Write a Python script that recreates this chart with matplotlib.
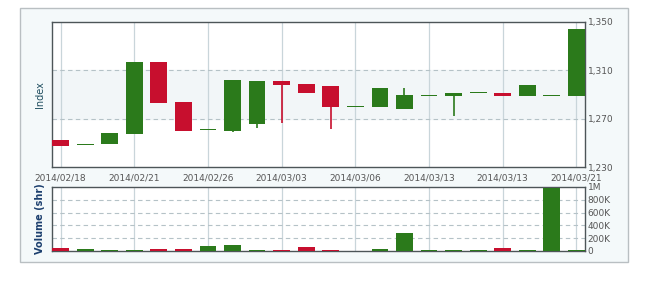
import matplotlib.pyplot as plt
import numpy as np
from matplotlib.patches import Rectangle

# daily OHLC + volume
dates = ["2014/02/18", "2014/02/19", "2014/02/20", "2014/02/21", "2014/02/24",
         "2014/02/25", "2014/02/26", "2014/02/27", "2014/02/28", "2014/03/03",
         "2014/03/04", "2014/03/05", "2014/03/06", "2014/03/07", "2014/03/10",
         "2014/03/13", "2014/03/14", "2014/03/17", "2014/03/13", "2014/03/19",
         "2014/03/20", "2014/03/21"]
opens = [1252.3, 1248.5, 1249.0, 1257.6, 1316.9, 1284.0, 1260.6, 1259.8, 1265.6, 1301.4,
         1298.7, 1297.0, 1279.9, 1279.9, 1277.7, 1289.0, 1289.0, 1291.0, 1291.0, 1288.8,
         1289.0, 1288.8]
closes = [1247.4, 1249.0, 1258.1, 1316.9, 1283.2, 1259.8, 1260.6, 1302.0, 1301.2, 1297.9,
          1291.5, 1279.9, 1279.9, 1295.1, 1289.6, 1289.0, 1291.0, 1291.0, 1289.0, 1297.9,
          1289.0, 1344.0]
highs = [1252.3, 1249.0, 1258.1, 1316.9, 1316.9, 1284.0, 1260.6, 1302.0, 1301.2, 1301.4,
         1298.7, 1297.0, 1279.9, 1295.1, 1295.1, 1289.0, 1291.0, 1291.0, 1291.0, 1297.9,
         1289.0, 1344.0]
lows = [1247.4, 1248.5, 1249.0, 1257.6, 1283.2, 1259.8, 1260.6, 1259.0, 1262.0, 1266.2,
        1291.5, 1261.2, 1279.9, 1279.9, 1277.7, 1289.0, 1272.2, 1291.0, 1289.0, 1288.8,
        1289.0, 1288.8]
volumes = [40e3, 35e3, 20e3, 20e3, 35e3, 35e3, 75e3, 90e3, 20e3, 20e3,
           60e3, 8e3, 5e3, 38e3, 280e3, 20e3, 20e3, 20e3, 40e3, 20e3,
           990e3, 20e3]
tick_idx = [0, 3, 6, 9, 12, 15, 18, 21]
tick_labels = ["2014/02/18", "2014/02/21", "2014/02/26", "2014/03/03",
               "2014/03/06", "2014/03/13", "2014/03/13", "2014/03/21"]

GREEN = "#2b7a1b"
RED = "#c70f2e"
GRID = "#c9d5da"
TXT = "#555555"

fig = plt.figure(figsize=(6.5, 2.82), dpi=100)
fig.patch.set_facecolor("white")
fig.patches.append(Rectangle((20 / 650, 1 - 262 / 282), 608 / 650, 254 / 282,
                             transform=fig.transFigure, facecolor="#f4f9fa",
                             edgecolor="#b9bfc2", linewidth=1, zorder=-1))

ax = fig.add_axes([52 / 650, 1 - 167 / 282, 533 / 650, 145 / 282])
axv = fig.add_axes([52 / 650, 1 - 251 / 282, 533 / 650, 64 / 282])

x = np.arange(len(dates))
o = np.array(opens); c = np.array(closes)
up = c >= o
colors = np.where(up, GREEN, RED)
w = 0.68

# candles
ax.vlines(x, lows, highs, colors=colors, linewidth=1.2, zorder=3)
body_lo = np.minimum(o, c)
body_h = np.maximum(np.abs(c - o), 0.7)
ax.bar(x, body_h, bottom=body_lo, width=w, color=colors, zorder=4)

ax.axhspan(1270, 1310, color="#f2f6f8", zorder=0)
for yv in (1270, 1310):
    ax.axhline(yv, color="#b5c2c7", linestyle=(0, (4, 3)), linewidth=0.8, zorder=1)

ax.set_xlim(-0.35, len(dates) - 0.65)
ax.set_ylim(1230, 1350)
ax.set_yticks([1230, 1270, 1310, 1350])
ax.set_yticklabels(["1,230", "1,270", "1,310", "1,350"])
ax.yaxis.tick_right()
ax.set_xticks(tick_idx)
ax.set_xticklabels(tick_labels)
ax.grid(axis="x", color=GRID, linewidth=0.9, zorder=0)
ax.set_axisbelow(True)
ax.set_ylabel("Index", color="#1f4e5f", fontsize=7, labelpad=5)

# volume
axv.bar(x, volumes, width=w, color=colors, zorder=3)
axv.set_xlim(ax.get_xlim())
axv.set_ylim(0, 1e6)
axv.set_yticks([0, 2e5, 4e5, 6e5, 8e5, 1e6])
axv.set_yticklabels(["0", "200K", "400K", "600K", "800K", "1M"])
axv.yaxis.tick_right()
axv.set_xticks(tick_idx)
axv.set_xticklabels([])
axv.grid(axis="x", color=GRID, linewidth=0.9, zorder=0)
for yv in (2e5, 4e5, 6e5, 8e5):
    axv.axhline(yv, color="#b5c2c7", linestyle=(0, (4, 3)), linewidth=0.8, zorder=1)
axv.set_axisbelow(True)
axv.set_ylabel("Volume (shr)", color="#1c3f6e", fontsize=7, fontweight="bold", labelpad=5)

for a in (ax, axv):
    a.set_facecolor("white")
    for s in a.spines.values():
        s.set_color("#4d5558")
        s.set_linewidth(1)
    a.tick_params(length=0, labelsize=6.5, colors=TXT, pad=2)
ax.tick_params(axis="x", pad=5)

fig.savefig("out.png", dpi=100)
